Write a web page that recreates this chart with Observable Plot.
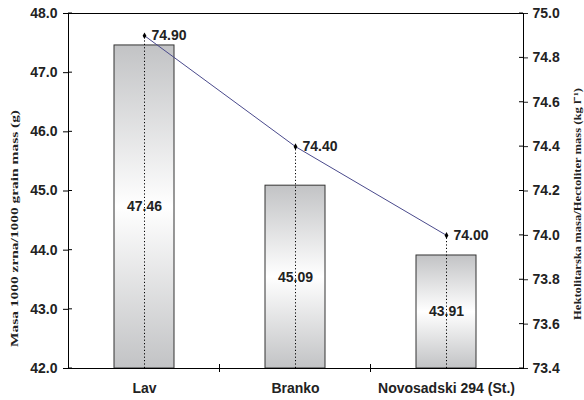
<!DOCTYPE html>
<html><head><meta charset="utf-8">
<script src="https://cdn.jsdelivr.net/npm/d3@7"></script>
<script src="https://cdn.jsdelivr.net/npm/@observablehq/plot@0.6"></script>
<style>body{margin:0;background:#fff}</style>
</head><body><div id="chart"></div>
<script>
const cultivars = ["Lav", "Branko", "Novosadski 294 (St.)"];
const grainMass = [47.46, 45.09, 43.91];
const hectoliterMass = [74.90, 74.40, 74.00];
const leftTicks = [42, 43, 44, 45, 46, 47, 48];
const rightTicks = [73.4, 73.6, 73.8, 74.0, 74.2, 74.4, 74.6, 74.8, 75.0];
const leftDomain = [42, 48];
const rightDomain = [73.4, 75.0];
const leftLabel = "Masa 1000 zrna/1000 grain mass (g)";
const rightLabel = "Hektolitarska masa/Hectoliter mass (kg l\u207B\u00B9)";

const k = (leftDomain[1] - leftDomain[0]) / (rightDomain[1] - rightDomain[0]);
const toLeft = v => leftDomain[0] + (v - rightDomain[0]) * k;
const fromLeft = v => rightDomain[0] + (v - leftDomain[0]) / k;

const rows = cultivars.map((c, i) => ({
  cultivar: c, mass: grainMass[i], hl: hectoliterMass[i], hlY: toLeft(hectoliterMass[i])
}));

function extraTicks(index, scales, values, dims) {
  const {x, y} = scales;
  const g = d3.create("svg:g").attr("stroke", "#000").attr("stroke-width", 1);
  const L = dims.marginLeft, R = dims.width - dims.marginRight, B = dims.height - dims.marginBottom;
  for (const t of leftTicks) g.append("line").attr("x1", L).attr("x2", L + 4).attr("y1", y(t)).attr("y2", y(t));
  for (const t of rightTicks) { const yy = y(toLeft(t)); g.append("line").attr("x1", R - 4).attr("x2", R).attr("y1", yy).attr("y2", yy); }
  const bw = x.bandwidth ? x.bandwidth() : 0;
  for (let i = 0; i < cultivars.length - 1; i++) {
    const xx = (x(cultivars[i]) + x(cultivars[i + 1])) / 2 + bw / 2;
    g.append("line").attr("x1", xx).attr("x2", xx).attr("y1", B - 4).attr("y2", B + 4);
  }
  return g.node();
}

const plot = Plot.plot({
  width: 584, height: 400,
  marginLeft: 68, marginRight: 61, marginTop: 13, marginBottom: 32,
  style: {fontFamily: "Arial, 'Liberation Sans', sans-serif", fontSize: "14px", fontWeight: "bold", color: "#222", background: "#fff"},
  x: {domain: cultivars, paddingInner: 0.6, paddingOuter: 0.3, label: null},
  y: {domain: leftDomain, label: null},
  marks: [
    Plot.barY(rows, {x: "cultivar", y1: leftDomain[0], y2: "mass", fill: "url(#barGrad)", stroke: "#333", strokeWidth: 1}),
    Plot.text(rows, {x: "cultivar", y: d => (leftDomain[0] + d.mass) / 2, text: d => d.mass.toFixed(2), fontSize: 14, fontWeight: "bold", fill: "#222"}),
    Plot.ruleX(rows, {x: "cultivar", y1: leftDomain[0], y2: "hlY", stroke: "#000", strokeDasharray: "1.2,2.2", strokeWidth: 1}),
    Plot.line(rows, {x: "cultivar", y: "hlY", stroke: "#4a4a8c", strokeWidth: 1}),
    Plot.dot(rows, {x: "cultivar", y: "hlY", r: 2, fill: "#000", stroke: null, symbol: "diamond"}),
    Plot.text(rows, {x: "cultivar", y: "hlY", text: d => d.hl.toFixed(2), textAnchor: "start", dx: 7, fontSize: 14, fontWeight: "bold", fill: "#222"}),
    Plot.frame({stroke: "#000"}),
    Plot.axisY({ticks: leftTicks, tickFormat: d => d.toFixed(1), tickSize: 5, tickPadding: 6, label: null, stroke: "#000"}),
    Plot.axisY({anchor: "right", ticks: rightTicks.map(toLeft), tickFormat: d => fromLeft(d).toFixed(1), tickSize: 4, tickPadding: 5, label: null}),
    Plot.axisX({tickSize: 0, tickPadding: 15, label: null}),
    Plot.text([leftLabel], {frameAnchor: "left", text: d => d, rotate: -90, textAnchor: "start", dx: -54, dy: 156, fontFamily: "'Liberation Serif', 'Times New Roman', serif", fontSize: 11, fontWeight: "bold", fill: "#222"}),
    Plot.text([rightLabel], {frameAnchor: "right", text: d => d, rotate: -90, textAnchor: "start", dx: 54, dy: 129, fontFamily: "'Liberation Serif', 'Times New Roman', serif", fontSize: 11, fontWeight: "bold", fill: "#222"}),
    extraTicks
  ]
});

const svg = d3.select(plot);
const grad = svg.insert("defs", ":first-child").append("linearGradient")
  .attr("id", "barGrad").attr("x1", 0).attr("y1", 0).attr("x2", 0).attr("y2", 1);
grad.append("stop").attr("offset", "0%").attr("stop-color", "#c2c3c5");
grad.append("stop").attr("offset", "50%").attr("stop-color", "#ffffff");
grad.append("stop").attr("offset", "100%").attr("stop-color", "#c2c3c5");
svg.selectAll("text").filter(function() { return this.textContent === leftLabel; })
  .attr("textLength", 237).attr("lengthAdjust", "spacingAndGlyphs");
svg.selectAll("text").filter(function() { return this.textContent === rightLabel; })
  .attr("textLength", 232).attr("lengthAdjust", "spacingAndGlyphs");
document.getElementById("chart").append(plot);
</script>
</body></html>
